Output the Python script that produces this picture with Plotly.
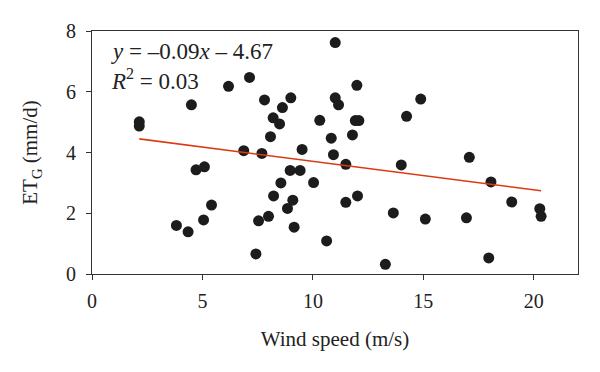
import plotly.graph_objects as go

wind_speed = [2.14, 2.14, 4.50, 6.18, 7.13, 7.81, 8.08, 8.20, 8.49, 8.62, 9.00,
              6.87, 7.69, 9.51, 4.71, 5.09, 8.97, 9.42, 8.55, 10.03, 8.22, 9.09,
              8.85, 5.41, 3.82, 4.35, 5.05, 7.54, 7.99, 9.15, 10.62, 7.42,
              10.31, 10.83, 10.93, 11.01, 11.01, 11.16, 11.79, 11.92, 12.08, 11.99,
              11.49, 11.49, 12.02, 14.00, 14.24, 14.88, 13.64, 15.09, 13.28, 16.95,
              17.08, 18.06, 17.96, 19.00, 20.27, 20.33]
et_g = [5.01, 4.87, 5.57, 6.18, 6.47, 5.73, 4.52, 5.14, 4.94, 5.48, 5.80,
        4.06, 3.97, 4.10, 3.43, 3.53, 3.41, 3.41, 3.00, 3.01, 2.57, 2.43,
        2.16, 2.27, 1.60, 1.39, 1.78, 1.75, 1.90, 1.54, 1.09, 0.66,
        5.06, 4.47, 3.93, 7.62, 5.80, 5.57, 4.58, 5.05, 5.05, 6.21,
        3.61, 2.36, 2.57, 3.59, 5.19, 5.76, 2.01, 1.81, 0.32, 1.85,
        3.84, 3.03, 0.53, 2.37, 2.15, 1.90]

fit_slope = -0.094
fit_intercept = 4.65
fit_x = [min(wind_speed), max(wind_speed)]
fit_y = [fit_intercept + fit_slope * v for v in fit_x]

x_ticks = [0, 5, 10, 15, 20]
y_ticks = [0, 2, 4, 6, 8]

FONT = "Liberation Serif"
TXT = "#222222"

fig = go.Figure()
fig.add_trace(go.Scatter(x=wind_speed, y=et_g, mode="markers",
                         marker=dict(size=11, color="#1c1c1c"),
                         showlegend=False))
fig.add_trace(go.Scatter(x=fit_x, y=fit_y, mode="lines",
                         line=dict(color="#dc3a12", width=1.6),
                         showlegend=False))

axis_common = dict(showline=True, linecolor="#333333", linewidth=1, mirror=True,
                   ticks="outside", ticklen=5, tickcolor="#333333",
                   showgrid=False, zeroline=False, automargin=False,
                   tickfont=dict(family=FONT, size=20, color=TXT))

fig.update_xaxes(range=[0, 22], tickvals=x_ticks, ticklabelstandoff=4,
                 title=dict(text="Wind speed (m/s)", standoff=20,
                            font=dict(family=FONT, size=21, color=TXT)),
                 **axis_common)
fig.update_yaxes(range=[0, 8], tickvals=y_ticks, ticklabelstandoff=6,
                 title=dict(text="ET<sub>G</sub> (mm/d)", standoff=22,
                            font=dict(family=FONT, size=21, color=TXT)),
                 **axis_common)

fig.add_annotation(xref="paper", yref="paper", x=0.034, y=0.914, xanchor="left", yanchor="middle",
                   text="<i>y</i> = \u20130.09<i>x</i> \u2013 4.67", showarrow=False, align="left",
                   font=dict(family=FONT, size=23, color=TXT))
fig.add_annotation(xref="paper", yref="paper", x=0.034, y=0.80, xanchor="left", yanchor="middle",
                   text="<i>R</i><sup>2</sup> = 0.03", showarrow=False, align="left",
                   font=dict(family=FONT, size=23, color=TXT))

fig.update_layout(width=600, height=372, margin=dict(l=84, r=30, t=23, b=106),
                  plot_bgcolor="white", paper_bgcolor="white")

fig.write_html("out.html")
